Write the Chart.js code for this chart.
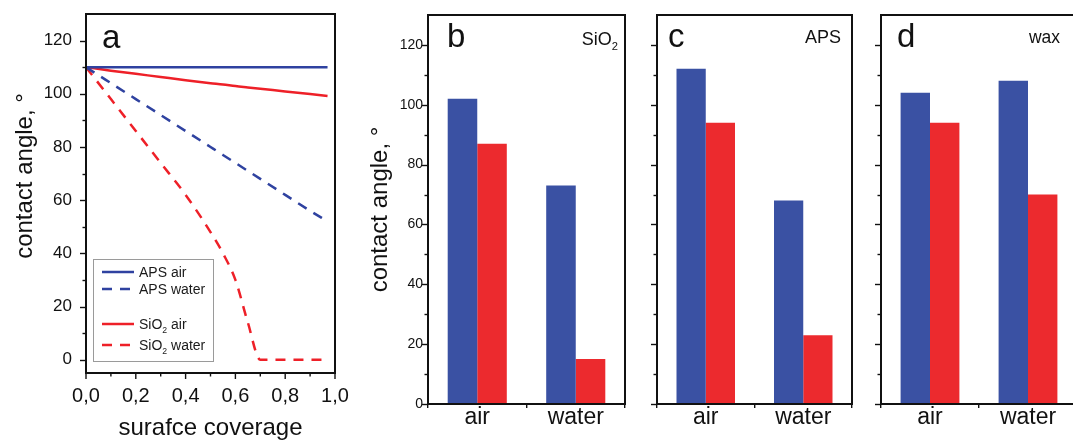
<!DOCTYPE html>
<html>
<head>
<meta charset="utf-8">
<script src="https://cdn.jsdelivr.net/npm/chart.js@4.4.0/dist/chart.umd.min.js"></script>
<style>
  html, body { margin: 0; background: #fff; overflow: hidden; width: 1073px; height: 441px; }
  .panel { position: absolute; top: 0; height: 441px; }
</style>
</head>
<body>
<div class="panel" style="left:0;width:350px"><canvas id="chartA"></canvas></div>
<div class="panel" style="left:360px;width:270px"><canvas id="chartB"></canvas></div>
<div class="panel" style="left:630px;width:228px"><canvas id="chartC"></canvas></div>
<div class="panel" style="left:858px;width:225px"><canvas id="chartD"></canvas></div>
<script>
// panel a - contact angle vs surface coverage
const coverage  = [0, 0.1, 0.2, 0.3, 0.4, 0.5, 0.55, 0.6, 0.65, 0.7, 0.8, 0.9, 0.97];
const apsAir    = [110, 110, 110, 110, 110, 110, 110, 110, 110, 110, 110, 110, 110];
const apsWater  = [110, 104, 98, 92, 86, 80, 77, 74, 71, 68, 62, 56, 52];
const sio2Air   = [110, 108.7, 107.5, 106.3, 105.1, 104, 103.5, 102.9, 102.4, 101.9, 100.9, 99.9, 99.2];
const sio2Water = [110, 98, 86, 74, 62, 48, 40, 30, 14, 0, 0, 0, 0];
const xTicks = [0, 0.2, 0.4, 0.6, 0.8, 1.0];
const xMinorTicks = [0, 0.1, 0.2, 0.3, 0.4, 0.5, 0.6, 0.7, 0.8, 0.9, 1.0];
const yTicks = [0, 20, 40, 60, 80, 100, 120];
const yMinorTicks = [0, 10, 20, 30, 40, 50, 60, 70, 80, 90, 100, 110, 120];

// panels b, c, d - measured contact angles
const media = ['air', 'water'];
const sio2Blue = [102, 73];
const sio2Red  = [87, 15];
const apsBlue  = [112, 68];
const apsRed   = [94, 23];
const waxBlue  = [104, 108];
const waxRed   = [94, 70];

const FONT = '"Liberation Sans", Arial, sans-serif';
const BLUE = '#3a51a3';
const RED = '#ec2a2e';
const LBLUE = '#2f42a0';
const LRED = '#ee2028';

function drawLabel(ctx, x, y, txt, size, align) {
  const m = txt.match(/^(.*O)2(.*)$/);
  const parts = m ? [[m[1], size, 0], ['2', size * 0.62, size * 0.3], [m[2], size, 0]] : [[txt, size, 0]];
  let w = 0;
  parts.forEach(p => { ctx.font = p[1] + 'px ' + FONT; w += ctx.measureText(p[0]).width; });
  let cx = align === 'right' ? x - w : align === 'center' ? x - w / 2 : x;
  ctx.textAlign = 'left';
  ctx.textBaseline = 'alphabetic';
  parts.forEach(p => {
    ctx.font = p[1] + 'px ' + FONT;
    ctx.fillText(p[0], cx, y + p[2]);
    cx += ctx.measureText(p[0]).width;
  });
}

// box round the plot + major/minor tick marks
const frame = {
  id: 'frame',
  afterDraw(chart, args, o) {
    const { ctx, chartArea: a } = chart;
    ctx.save();
    ctx.strokeStyle = '#111';
    ctx.lineWidth = 1.4;
    const y = chart.scales.y;
    y.ticks.forEach(t => {
      const py = Math.round(y.getPixelForValue(t.value)) + 0.5;
      const len = t.value % 20 === 0 ? 6 : 3.5;
      ctx.beginPath(); ctx.moveTo(a.left - len, py); ctx.lineTo(a.left, py); ctx.stroke();
    });
    if (o.xMinor) {
      const x = chart.scales.x;
      x.ticks.forEach(t => {
        const px = x.getPixelForValue(t.value);
        const len = Math.round(t.value * 10) % 2 === 0 ? 6 : 3.5;
        ctx.beginPath(); ctx.moveTo(px, a.bottom); ctx.lineTo(px, a.bottom + len); ctx.stroke();
      });
    }
    ctx.lineWidth = 2;
    ctx.strokeRect(a.left, a.top, a.right - a.left, a.bottom - a.top);
    ctx.restore();
  }
};

// panel letters, inner titles, rotated axis title
const notes = {
  id: 'notes',
  afterDraw(chart, args, o) {
    const { ctx, chartArea: a } = chart;
    ctx.save();
    ctx.fillStyle = '#111';
    (o.items || []).forEach(it => {
      const x = it.from === 'right' ? a.right + it.dx : a.left + it.dx;
      if (it.rotate) {
        ctx.save();
        ctx.translate(x, it.dy === 'mid' ? (a.top + a.bottom) / 2 : a.top + it.dy);
        ctx.rotate(-Math.PI / 2);
        drawLabel(ctx, 0, 0, it.text, it.size, 'center');
        ctx.restore();
      } else {
        drawLabel(ctx, x, a.top + it.dy, it.text, it.size, it.align || 'left');
      }
    });
    ctx.restore();
  }
};

// boxed legend with an empty row between the two groups
const boxLegend = {
  id: 'boxLegend',
  afterDraw(chart, args, o) {
    if (!o.rows) return;
    const { ctx, chartArea: a } = chart;
    const bx = a.left + 7, by = a.top + 245;
    ctx.save();
    ctx.fillStyle = '#fff';
    ctx.fillRect(bx, by, 120, 102);
    ctx.strokeStyle = '#9a9a9a';
    ctx.lineWidth = 1;
    ctx.strokeRect(bx + 0.5, by + 0.5, 120, 102);
    chart.data.datasets.forEach((ds, i) => {
      const ry = by + o.rows[i];
      ctx.strokeStyle = ds.borderColor;
      ctx.lineWidth = 2.5;
      ctx.setLineDash(ds.borderDash || []);
      ctx.beginPath(); ctx.moveTo(bx + 9, ry); ctx.lineTo(bx + 41, ry); ctx.stroke();
      ctx.setLineDash([]);
      ctx.fillStyle = '#1a1a1a';
      drawLabel(ctx, bx + 46, ry + 5, ds.label, 14, 'left');
    });
    ctx.restore();
  }
};

Chart.register(frame, notes, boxLegend);
Chart.defaults.font.family = FONT;
Chart.defaults.color = '#111';

const pts = vals => coverage.map((c, i) => ({ x: c, y: vals[i] }));
const noPadX = s => { s.paddingLeft = 0; s.paddingRight = 0; };
const noPadY = s => { s.paddingTop = 0; s.paddingBottom = 0; };

new Chart(document.getElementById('chartA'), {
  type: 'line',
  data: {
    datasets: [
      { label: 'APS air', data: pts(apsAir), borderColor: LBLUE, borderWidth: 2.5 },
      { label: 'APS water', data: pts(apsWater), borderColor: LBLUE, borderWidth: 2.5, borderDash: [10, 8] },
      { label: 'SiO2 air', data: pts(sio2Air), borderColor: LRED, borderWidth: 2.5 },
      { label: 'SiO2 water', data: pts(sio2Water), borderColor: LRED, borderWidth: 2.5, borderDash: [10, 8] }
    ]
  },
  options: {
    responsive: true,
    maintainAspectRatio: false,
    animation: false,
    elements: { point: { radius: 0 }, line: { cubicInterpolationMode: 'monotone', borderCapStyle: 'butt' } },
    layout: { padding: { top: 14, right: 15, left: 0, bottom: 0 } },
    plugins: {
      legend: { display: false },
      tooltip: { enabled: false },
      frame: { xMinor: true },
      boxLegend: { rows: [13, 30, 65, 86] },
      notes: { items: [
        { text: 'a', size: 33, dx: 16, dy: 34 },
        { text: 'contact angle, °', size: 24, dx: -54, dy: 162, rotate: true }
      ] }
    },
    scales: {
      x: {
        type: 'linear', min: 0, max: 1,
        afterBuildTicks: s => { s.ticks = xMinorTicks.map(v => ({ value: v })); },
        afterFit: s => { s.height = 68; noPadX(s); },
        grid: { drawOnChartArea: false, tickLength: 6, tickColor: 'rgba(0,0,0,0)' },
        border: { display: false },
        ticks: {
          padding: 5, font: { size: 20 }, maxRotation: 0, autoSkip: false,
          callback: v => xTicks.some(t => Math.abs(t - v) < 1e-6) ? v.toFixed(1).replace('.', ',') : ''
        },
        title: { display: true, text: 'surafce coverage', font: { size: 24 }, padding: { top: 0, bottom: -2 } }
      },
      y: {
        min: -5, max: 130,
        afterBuildTicks: s => { s.ticks = yMinorTicks.map(v => ({ value: v })); },
        afterFit: s => { s.width = 86; noPadY(s); },
        grid: { drawOnChartArea: false, tickLength: 6, tickColor: 'rgba(0,0,0,0)' },
        border: { display: false },
        ticks: { padding: 8, font: { size: 17 }, autoSkip: false, callback: v => yTicks.includes(v) ? v : '' }
      }
    }
  }
});

function barPanel(id, blue, red, yWidth, padRight, items, showLabels) {
  return new Chart(document.getElementById(id), {
    type: 'bar',
    data: {
      labels: media,
      datasets: [
        { label: 'series 1', data: blue, backgroundColor: BLUE, borderWidth: 0 },
        { label: 'series 2', data: red, backgroundColor: RED, borderWidth: 0 }
      ]
    },
    options: {
      responsive: true,
      maintainAspectRatio: false,
      animation: false,
      categoryPercentage: 0.6,
      barPercentage: 1.0,
      layout: { padding: { top: 15, right: padRight, left: 0, bottom: 0 } },
      plugins: {
        legend: { display: false },
        tooltip: { enabled: false },
        notes: { items: items }
      },
      scales: {
        x: {
          afterFit: s => { s.height = 37; noPadX(s); },
          grid: { drawOnChartArea: false, tickLength: 4, tickColor: '#111', lineWidth: 1.4 },
          border: { display: false },
          ticks: { padding: -4, font: { size: 23 }, maxRotation: 0 }
        },
        y: {
          min: 0, max: 130,
          afterBuildTicks: s => { s.ticks = yMinorTicks.map(v => ({ value: v })); },
          afterFit: s => { s.width = yWidth; noPadY(s); },
          grid: { drawOnChartArea: false, tickLength: 4, tickColor: 'rgba(0,0,0,0)' },
          border: { display: false },
          ticks: { display: showLabels, padding: 1, font: { size: 14 }, autoSkip: false,
                   callback: v => yTicks.includes(v) ? v : '' }
        }
      }
    }
  });
}

barPanel('chartB', sio2Blue, sio2Red, 68, 5, [
  { text: 'b', size: 33, dx: 19, dy: 32 },
  { text: 'SiO2', size: 18, from: 'right', dx: -7, dy: 30, align: 'right' },
  { text: 'contact angle, °', size: 24, dx: -41, dy: 'mid', rotate: true }
], true);
barPanel('chartC', apsBlue, apsRed, 27, 6, [
  { text: 'c', size: 33, dx: 11, dy: 32 },
  { text: 'APS', size: 18, from: 'right', dx: -11, dy: 28, align: 'right' }
], false);
barPanel('chartD', waxBlue, waxRed, 23, 6, [
  { text: 'd', size: 33, dx: 16, dy: 32 },
  { text: 'wax', size: 17.5, from: 'right', dx: -17, dy: 28, align: 'right' }
], false);
</script>
</body>
</html>
